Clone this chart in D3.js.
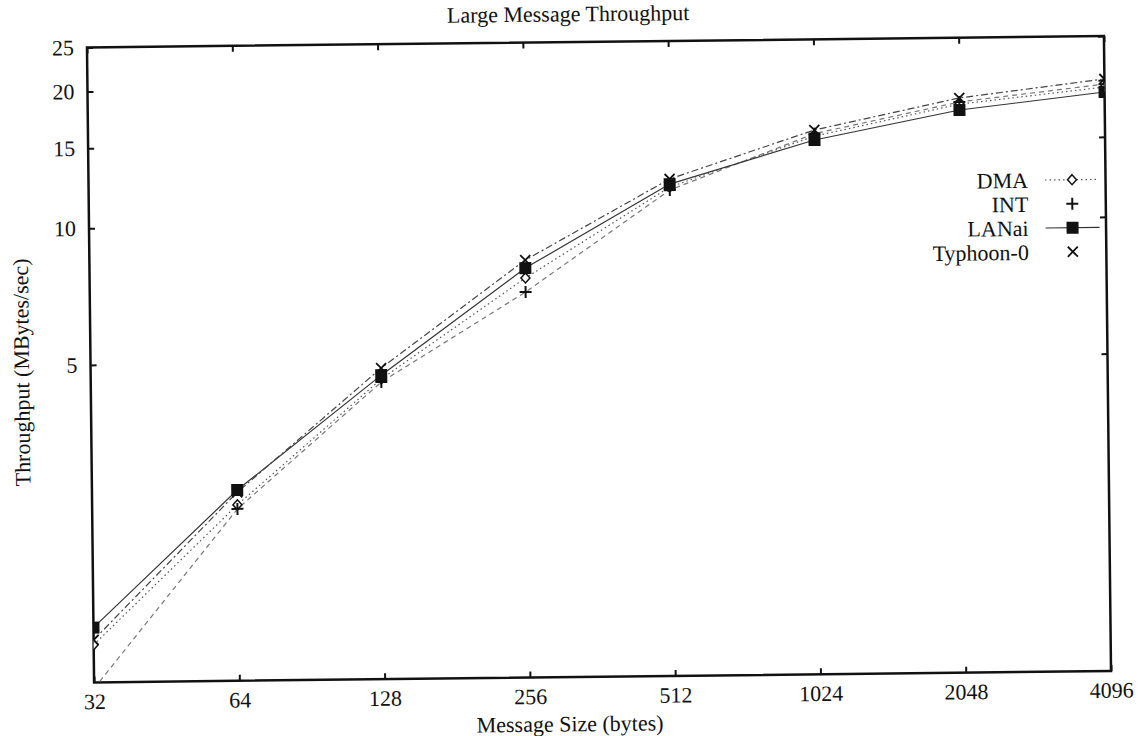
<!DOCTYPE html>
<html>
<head>
<meta charset="utf-8">
<title>Large Message Throughput</title>
<script src="https://cdn.jsdelivr.net/npm/d3@7"></script>
<style>
  body { margin: 0; background: #fff; }
  text { font-family: "Liberation Serif", "Times New Roman", serif; fill: #111; }
</style>
</head>
<body>
<script>
// message sizes (bytes) and throughput (MBytes/sec)
var sizes = [32, 64, 128, 256, 512, 1024, 2048, 4096];
var dma = [1.21, 2.44, 4.58, 7.58, 11.92, 15.3, 17.85, 19.31];
var intr = [0.97, 2.39, 4.51, 7.06, 11.74, 15.5, 18.05, 19.6];
var lanai = [1.32, 2.63, 4.67, 7.97, 12.1, 15.01, 17.33, 18.83];
var typhoon = [1.24, 2.6, 4.84, 8.3, 12.42, 15.79, 18.42, 20.12];
var yTicks = [5, 10, 15, 20, 25];
var names = ["DMA", "INT", "LANai", "Typhoon-0"];

var serif = "Liberation Serif, Times New Roman, serif";
var svgWidth = 1144, svgHeight = 736;
var margin = { left: 90.5, top: 41.75 };
var width = 1017, height = 635;

var svg = d3.select("body").append("svg")
    .attr("width", svgWidth)
    .attr("height", svgHeight);

// the scanned page is slightly tilted
var g = svg.append("g")
    .attr("transform", "rotate(-0.64, 599, 359)");

var x = d3.scaleLog().base(2).domain([32, 4096]).range([margin.left, margin.left + width]);
var y = d3.scaleLog().domain([1, 25]).range([margin.top + height, margin.top]);

var series = [
    { name: names[0], values: dma, dash: "1.5,3", color: "#555", marker: "diamond", legendLine: true },
    { name: names[1], values: intr, dash: "5,4", color: "#777", marker: "plus", legendLine: false },
    { name: names[2], values: lanai, dash: null, color: "#333", marker: "square", legendLine: true },
    { name: names[3], values: typhoon, dash: "7,3,2,3", color: "#444", marker: "cross", legendLine: false }
];

g.append("clipPath").attr("id", "plotclip")
    .append("rect")
    .attr("x", margin.left).attr("y", margin.top)
    .attr("width", width).attr("height", height);

// axes, ticks inward on all four sides
var fmt = d3.format("d");
var axB = g.append("g")
    .attr("transform", "translate(0," + (margin.top + height) + ")")
    .call(d3.axisBottom(x).tickValues(sizes).tickFormat(fmt).tickSize(-6).tickPadding(11));
var axT = g.append("g")
    .attr("transform", "translate(0," + margin.top + ")")
    .call(d3.axisTop(x).tickValues(sizes).tickFormat("").tickSize(-6));
var axL = g.append("g")
    .attr("transform", "translate(" + margin.left + ",0)")
    .call(d3.axisLeft(y).tickValues(yTicks).tickFormat(fmt).tickSize(-6).tickPadding(13));
var axR = g.append("g")
    .attr("transform", "translate(" + (margin.left + width) + ",0)")
    .call(d3.axisRight(y).tickValues(yTicks).tickFormat("").tickSize(-6));

[axB, axT, axL, axR].forEach(function (a) {
    a.select(".domain").remove();
    a.selectAll(".tick line").attr("stroke", "#111").attr("stroke-width", 2);
    a.selectAll(".tick text").attr("font-size", 22).attr("font-family", serif).attr("fill", "#111");
});

g.append("rect")
    .attr("x", margin.left).attr("y", margin.top)
    .attr("width", width).attr("height", height)
    .attr("fill", "none")
    .attr("stroke", "#111")
    .attr("stroke-width", 2.5);

// lines
var line = d3.line()
    .x(function (d, i) { return x(sizes[i]); })
    .y(function (d) { return y(d); });

var plot = g.append("g").attr("clip-path", "url(#plotclip)");

series.forEach(function (s) {
    plot.append("path")
        .datum(s.values)
        .attr("d", line)
        .attr("fill", "none")
        .attr("stroke", s.color)
        .attr("stroke-width", 1.2)
        .attr("stroke-dasharray", s.dash);
});

function drawMarker(sel, type, cx, cy) {
    if (type == "diamond") {
        sel.append("path")
            .attr("d", "M" + cx + "," + (cy - 5) + "L" + (cx + 4.5) + "," + cy + "L" + cx + "," + (cy + 5) + "L" + (cx - 4.5) + "," + cy + "Z")
            .attr("fill", "#fff").attr("stroke", "#111").attr("stroke-width", 1.5);
    } else if (type == "plus") {
        sel.append("path")
            .attr("d", "M" + (cx - 6) + "," + cy + "H" + (cx + 6) + "M" + cx + "," + (cy - 6) + "V" + (cy + 6))
            .attr("stroke", "#111").attr("stroke-width", 2);
    } else if (type == "square") {
        sel.append("rect")
            .attr("x", cx - 6).attr("y", cy - 6)
            .attr("width", 12).attr("height", 12)
            .attr("fill", "#111");
    } else {
        sel.append("path")
            .attr("d", "M" + (cx - 5) + "," + (cy - 5) + "L" + (cx + 5) + "," + (cy + 5) + "M" + (cx + 5) + "," + (cy - 5) + "L" + (cx - 5) + "," + (cy + 5))
            .attr("stroke", "#111").attr("stroke-width", 1.8);
    }
}

// markers
series.forEach(function (s) {
    var mg = plot.append("g");
    s.values.forEach(function (v, i) {
        drawMarker(mg, s.marker, x(sizes[i]), y(v));
    });
});

// legend
var legend = g.append("g");
series.forEach(function (s, i) {
    var ly = 185 + i * 24;
    legend.append("text")
        .attr("x", 1030).attr("y", ly)
        .attr("dy", "0.35em")
        .attr("text-anchor", "end")
        .attr("font-size", 22)
        .attr("font-family", serif)
        .text(s.name);
    if (s.legendLine) {
        legend.append("line")
            .attr("x1", 1047).attr("x2", 1101)
            .attr("y1", ly).attr("y2", ly)
            .attr("stroke", s.color)
            .attr("stroke-width", 1.2)
            .attr("stroke-dasharray", s.dash);
    }
    drawMarker(legend, s.marker, 1074, ly);
});

// titles
g.append("text")
    .attr("x", 572).attr("y", 21)
    .attr("text-anchor", "middle")
    .attr("font-size", 22)
    .attr("font-family", serif)
    .text("Large Message Throughput");

g.append("text")
    .attr("x", 566).attr("y", 731)
    .attr("text-anchor", "middle")
    .attr("font-size", 22)
    .attr("font-family", serif)
    .text("Message Size (bytes)");

g.append("text")
    .attr("transform", "translate(29,366) rotate(-90)")
    .attr("text-anchor", "middle")
    .attr("font-size", 22)
    .attr("font-family", serif)
    .text("Throughput (MBytes/sec)");
</script>
</body>
</html>
